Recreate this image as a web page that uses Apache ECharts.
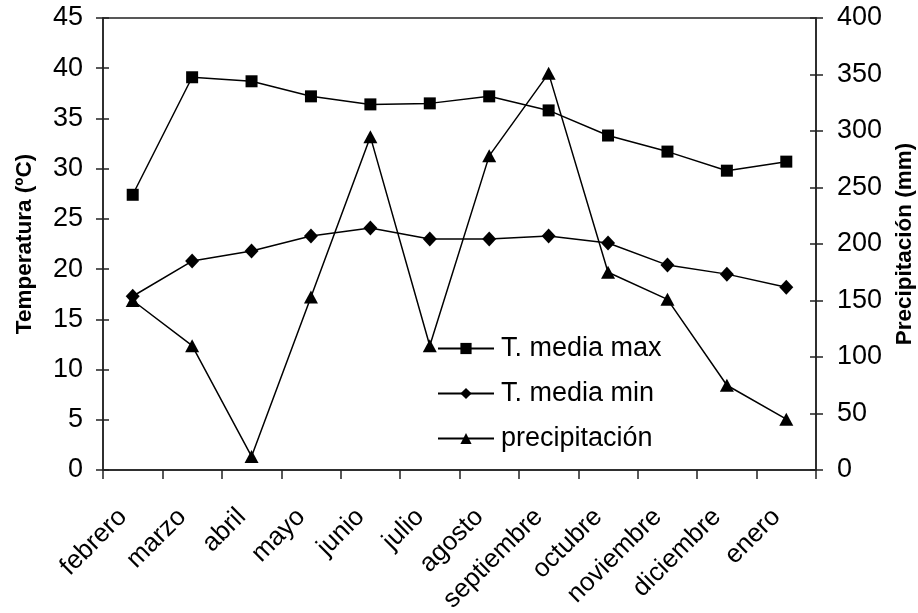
<!DOCTYPE html>
<html>
<head>
<meta charset="utf-8">
<script src="https://cdn.jsdelivr.net/npm/echarts@6/dist/echarts.min.js"></script>
<style>
html,body{margin:0;padding:0;background:#fff;}
#chart{width:918px;height:613px;}
</style>
</head>
<body>
<div id="chart"></div>
<script>
const months = ['febrero','marzo','abril','mayo','junio','julio','agosto','septiembre','octubre','noviembre','diciembre','enero'];
const tMax = [27.4, 39.1, 38.7, 37.2, 36.4, 36.5, 37.2, 35.8, 33.3, 31.7, 29.8, 30.7];
const tMin = [17.3, 20.8, 21.8, 23.3, 24.1, 23.0, 23.0, 23.3, 22.6, 20.4, 19.5, 18.2];
const precip = [150, 110, 12, 153, 295, 110, 278, 351, 175, 151, 75, 45];
const seriesNames = ['T. media max', 'T. media min', 'precipitación'];
const leftTitle = 'Temperatura (ºC)';
const rightTitle = 'Precipitación (mm)';

const FONT = 'Liberation Sans, Arial, sans-serif';
const axisLine = {show: true, lineStyle: {color: '#222', width: 1.5}};
const chart = echarts.init(document.getElementById('chart'));
const lineStyle = {color: '#000', width: 1.5};
chart.setOption({
  animation: false,
  backgroundColor: '#fff',
  grid: {left: 103, right: 102, top: 18, bottom: 143, containLabel: false, outerBoundsMode: 'none',
         show: true, borderColor: '#222', borderWidth: 1.5, backgroundColor: 'transparent'},
  legend: {
    orient: 'vertical', left: 437, top: 335, padding: 0,
    itemWidth: 56, itemHeight: 14, itemGap: 18,
    textStyle: {fontFamily: FONT, fontSize: 27, color: '#000', padding: [0, 0, 0, 2]},
    data: seriesNames
  },
  xAxis: [{
    type: 'category', data: months, boundaryGap: true,
    axisLine: axisLine,
    axisTick: {show: true, length: 9, alignWithLabel: false, lineStyle: {color: '#222', width: 1.5}},
    axisLabel: {rotate: 45, margin: 33, padding: [0, 14, 0, 0], fontFamily: FONT, fontSize: 26, color: '#000', interval: 0},
    splitLine: {show: false}
  }],
  yAxis: [{
    type: 'value', min: 0, max: 45, interval: 5, position: 'left',
    name: leftTitle, nameLocation: 'middle', nameGap: 67, nameRotate: 90,
    nameTextStyle: {fontFamily: FONT, fontSize: 22.5, fontWeight: 'bold', color: '#000'},
    axisLine: axisLine,
    axisTick: {show: true, length: 7, lineStyle: {color: '#222', width: 1.5}},
    axisLabel: {margin: 20, fontFamily: FONT, fontSize: 27, color: '#000'},
    splitLine: {show: false}
  }, {
    type: 'value', min: 0, max: 400, interval: 50, position: 'right',
    name: rightTitle, nameLocation: 'middle', nameGap: 77, nameRotate: 90,
    nameTextStyle: {fontFamily: FONT, fontSize: 22.5, fontWeight: 'bold', color: '#000'},
    axisLine: axisLine,
    axisTick: {show: true, length: 7, lineStyle: {color: '#222', width: 1.5}},
    axisLabel: {margin: 21, fontFamily: FONT, fontSize: 27, color: '#000'},
    splitLine: {show: false}
  }, {
    type: 'value', min: 0, max: 45, interval: 5, position: 'left',
    axisLine: {show: false},
    axisTick: {show: true, inside: true, length: 6, lineStyle: {color: '#222', width: 1.5}},
    axisLabel: {show: false}, splitLine: {show: false}
  }, {
    type: 'value', min: 0, max: 400, interval: 50, position: 'right',
    axisLine: {show: false},
    axisTick: {show: true, inside: true, length: 6, lineStyle: {color: '#222', width: 1.5}},
    axisLabel: {show: false}, splitLine: {show: false}
  }],
  series: [{
    name: seriesNames[0], type: 'line', data: tMax, yAxisIndex: 0,
    symbol: 'rect', symbolSize: 12, lineStyle: lineStyle, itemStyle: {color: '#000'}
  }, {
    name: seriesNames[1], type: 'line', data: tMin, yAxisIndex: 0,
    symbol: 'diamond', symbolSize: [14, 15], lineStyle: lineStyle, itemStyle: {color: '#000'}
  }, {
    name: seriesNames[2], type: 'line', data: precip, yAxisIndex: 1,
    symbol: 'triangle', symbolSize: [14, 13], lineStyle: lineStyle, itemStyle: {color: '#000'}
  }]
});
</script>
</body>
</html>
